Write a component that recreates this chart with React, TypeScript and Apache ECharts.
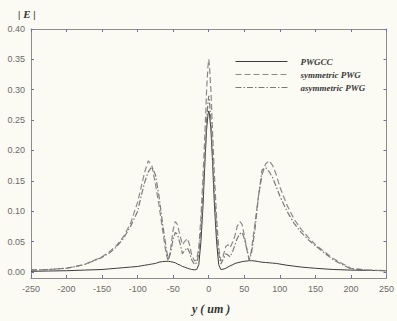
import React, { useEffect, useRef } from "react";
import * as echarts from "echarts";

const positions = [
  -250, -225, -200, -175, -150, -140, -130, -120, -110, -100, -95, -90, -85, -80, -75, -70, -65, -60, -57, -54,
  -50, -47, -44, -40, -37, -34, -30, -27, -24, -20, -17, -14, -11, -8, -5, -3, -1, 0, 1, 3, 5, 8, 11, 14, 17,
  20, 24, 27, 30, 34, 37, 40, 44, 47, 50, 54, 57, 60, 65, 70, 75, 80, 85, 90, 95, 100, 110, 120, 130, 140, 150,
  175, 200, 225, 250,
];

const pwgcc = [
  0.001, 0.0015, 0.002, 0.003, 0.004, 0.005, 0.006, 0.007, 0.008, 0.009, 0.01, 0.011, 0.012, 0.013, 0.014, 0.016,
  0.017, 0.0175, 0.0175, 0.017, 0.016, 0.015, 0.013, 0.011, 0.009, 0.008, 0.006, 0.005, 0.004, 0.0035, 0.004,
  0.012, 0.05, 0.11, 0.19, 0.235, 0.26, 0.265, 0.26, 0.235, 0.19, 0.11, 0.05, 0.012, 0.004,
  0.0045, 0.006, 0.008, 0.01, 0.012, 0.014, 0.015, 0.016, 0.017, 0.0175, 0.018, 0.0185, 0.0185, 0.018, 0.017,
  0.016, 0.0155, 0.015, 0.0145, 0.014, 0.013, 0.011, 0.0095, 0.008, 0.007, 0.006, 0.004, 0.003, 0.0025, 0.002,
];

const symmetricPwg = [
  0.003, 0.004, 0.006, 0.012, 0.025, 0.033, 0.043, 0.058, 0.08, 0.115, 0.14, 0.165, 0.183, 0.175, 0.145, 0.11,
  0.07, 0.03, 0.018, 0.035, 0.07, 0.083, 0.078, 0.058, 0.045, 0.05, 0.055, 0.045, 0.028, 0.018, 0.02,
  0.04, 0.09, 0.16, 0.24, 0.3, 0.34, 0.35, 0.34, 0.3, 0.24, 0.16, 0.09, 0.04, 0.018,
  0.025, 0.042, 0.045, 0.04, 0.05, 0.06, 0.075, 0.083, 0.078, 0.06, 0.035, 0.02, 0.035, 0.08, 0.125, 0.16,
  0.178, 0.183, 0.175, 0.16, 0.14, 0.11, 0.087, 0.07, 0.057, 0.045, 0.022, 0.006, 0.003, 0.002,
];

const asymmetricPwg = [
  0.003, 0.004, 0.006, 0.012, 0.024, 0.031, 0.041, 0.055, 0.075, 0.1, 0.125, 0.148, 0.165, 0.173, 0.16, 0.125,
  0.08, 0.04, 0.02, 0.03, 0.055, 0.065, 0.062, 0.045, 0.03, 0.035, 0.04, 0.032, 0.02, 0.012, 0.015,
  0.03, 0.07, 0.13, 0.2, 0.25, 0.28, 0.29, 0.28, 0.25, 0.2, 0.13, 0.07, 0.03, 0.013,
  0.02, 0.03, 0.028, 0.025, 0.035, 0.045, 0.055, 0.063, 0.065, 0.055, 0.035, 0.02, 0.03, 0.07, 0.125, 0.168,
  0.172, 0.165, 0.155, 0.14, 0.125, 0.1, 0.08, 0.065, 0.053, 0.043, 0.02, 0.005, 0.003, 0.002,
];

const yTicks = [0, 0.05, 0.1, 0.15, 0.2, 0.25, 0.3, 0.35, 0.4];
const seriesNames = ["PWGCC", "symmetric PWG", "asymmetric PWG"];

const pair = (ys: number[]) => positions.map((x, i) => [x, ys[i]]);

export default function App() {
  const ref = useRef<HTMLDivElement>(null);
  useEffect(() => {
    if (!ref.current) return;
    const chart = echarts.init(ref.current, null, { renderer: "svg" });
    const axisColor = "#8c8c8c";
    const labelStyle = { color: "#6a6a6a", fontSize: 9, fontFamily: "Liberation Sans" };
    const legendText = {
      color: "#3a3a3a",
      fontSize: 9,
      fontFamily: "Liberation Serif",
      fontStyle: "italic" as const,
      fontWeight: "bold" as const,
      padding: [0, 0, 0, 8],
    };
    chart.setOption({
      animation: false,
      backgroundColor: "#fbfbf4",
      grid: { left: 31, top: 29, right: 5, bottom: 43 },
      title: [
        {
          text: "| E |",
          left: 13,
          top: 3,
          textStyle: { fontFamily: "Liberation Serif", fontStyle: "italic", fontWeight: "bold", fontSize: 11, color: "#333" },
        },
        {
          text: "y ( um )",
          left: 187,
          top: 298,
          textStyle: { fontFamily: "Liberation Serif", fontStyle: "italic", fontWeight: "bold", fontSize: 12, color: "#333" },
        },
      ],
      legend: {
        orient: "vertical",
        left: 230,
        top: 52,
        itemWidth: 52,
        itemHeight: 8,
        itemGap: 4,
        data: seriesNames,
        textStyle: legendText,
        itemStyle: { opacity: 0 },
        lineStyle: { width: 1 },
      },
      xAxis: [
        {
          type: "value",
          min: -250,
          max: 250,
          interval: 50,
          position: "bottom",
          axisLine: { show: true, onZero: false, lineStyle: { color: axisColor } },
          axisTick: { show: true, inside: true, length: 3, lineStyle: { color: "#6677aa" } },
          axisLabel: { ...labelStyle, margin: 6 },
          splitLine: { show: false },
        },
        {
          type: "value",
          min: -250,
          max: 250,
          interval: 50,
          position: "top",
          axisLine: { show: true, onZero: false, lineStyle: { color: axisColor } },
          axisTick: { show: true, inside: true, length: 3, lineStyle: { color: "#6677aa" } },
          axisLabel: { show: false },
          splitLine: { show: false },
        },
      ],
      yAxis: [
        {
          type: "value",
          min: -0.01,
          max: 0.4,
          position: "left",
          axisLine: { show: true, onZero: false, lineStyle: { color: axisColor } },
          axisTick: { show: true, inside: true, length: 3, customValues: yTicks, lineStyle: { color: "#6677aa" } },
          axisLabel: { ...labelStyle, margin: 6, customValues: yTicks, formatter: (v: number) => v.toFixed(2) },
          splitLine: { show: false },
        },
        {
          type: "value",
          min: -0.01,
          max: 0.4,
          position: "right",
          axisLine: { show: true, onZero: false, lineStyle: { color: axisColor } },
          axisTick: { show: true, inside: true, length: 3, customValues: yTicks, lineStyle: { color: "#6677aa" } },
          axisLabel: { show: false, customValues: yTicks },
          splitLine: { show: false },
        },
      ],
      series: [
        {
          name: seriesNames[0],
          type: "line",
          data: pair(pwgcc),
          symbol: "none",
          lineStyle: { color: "#3c3c3c", width: 1 },
          itemStyle: { color: "#3c3c3c" },
          z: 3,
        },
        {
          name: seriesNames[1],
          type: "line",
          data: pair(symmetricPwg),
          symbol: "none",
          lineStyle: { color: "#8a8a8a", width: 1.2, type: [6, 3] },
          itemStyle: { color: "#8a8a8a" },
        },
        {
          name: seriesNames[2],
          type: "line",
          data: pair(asymmetricPwg),
          symbol: "none",
          lineStyle: { color: "#7a7a7a", width: 1.2, type: [6, 2, 1.5, 2] },
          itemStyle: { color: "#7a7a7a" },
        },
      ],
    });
    return () => chart.dispose();
  }, []);
  return <div ref={ref} style={{ position: "fixed", left: 0, top: 0, width: 397, height: 321 }} />;
}
